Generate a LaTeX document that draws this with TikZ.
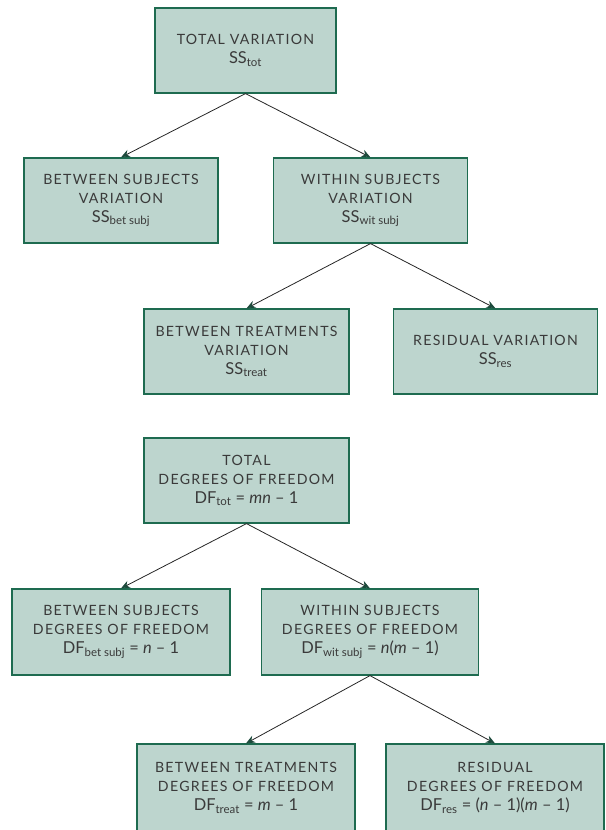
\documentclass[tikz,border=0pt]{standalone}
\usepackage{fontspec}
\setmainfont{Lato}
\newfontfamily\capsfont{Lato}[LetterSpace=9.0]
\usetikzlibrary{arrows.meta}
\definecolor{boxfill}{HTML}{BDD5CE}
\definecolor{boxline}{HTML}{1E6B50}
\definecolor{textgray}{HTML}{3A3A3A}
\definecolor{tipgreen}{HTML}{1D4A3C}
\tikzset{
  box/.style={draw=boxline, fill=boxfill, line width=1.2bp, rectangle, align=center,
    inner sep=0pt, text=textgray, font=\fontsize{14.2}{19}\selectfont},
  arr/.style={draw=black!85, line width=0.8bp, -{Stealth[length=9bp,width=7.5bp,color=tipgreen]}}
}
\newcommand{\cp}[1]{{\capsfont #1}}
\newcommand{\fm}[1]{{\fontsize{16.5}{19}\selectfont #1}}
\newcommand{\sbs}[1]{\textsubscript{\fontsize{11.5}{12}\selectfont #1}}
\begin{document}
\begin{tikzpicture}[x=1bp,y=-1bp]
\useasboundingbox (0,0) rectangle (606,830);
\clip (0,0) rectangle (606,830);
% top tree
\node[box, minimum width=181bp, minimum height=85bp] (t1) at (245.5,50.5)
  {\cp{TOTAL VARIATION}\\\fm{SS\sbs{tot}}};
\node[box, minimum width=194bp, minimum height=85bp] (t2) at (121,200.5)
  {\cp{BETWEEN SUBJECTS}\\\cp{VARIATION}\\\fm{SS\sbs{bet subj}}};
\node[box, minimum width=194bp, minimum height=85bp] (t3) at (370.5,200.5)
  {\cp{WITHIN SUBJECTS}\\\cp{VARIATION}\\\fm{SS\sbs{wit subj}}};
\node[box, minimum width=205bp, minimum height=85bp] (t4) at (246.5,351.5)
  {\cp{BETWEEN TREATMENTS}\\\cp{VARIATION}\\\fm{SS\sbs{treat}}};
\node[box, minimum width=204bp, minimum height=85bp] (t5) at (495.5,351.5)
  {\cp{RESIDUAL VARIATION}\\\fm{SS\sbs{res}}};
\draw[arr] (t1.south) -- (t2.north);
\draw[arr] (t1.south) -- (t3.north);
\draw[arr] (t3.south) -- (t4.north);
\draw[arr] (t3.south) -- (t5.north);
% bottom tree
\node[box, minimum width=205bp, minimum height=85bp] (d1) at (246.5,480.5)
  {\cp{TOTAL}\\\cp{DEGREES OF FREEDOM}\\\fm{DF\sbs{tot} = \textit{mn} – 1}};
\node[box, minimum width=218bp, minimum height=86bp] (d2) at (121,632)
  {\cp{BETWEEN SUBJECTS}\\\cp{DEGREES OF FREEDOM}\\\fm{DF\sbs{bet subj} = \textit{n} – 1}};
\node[box, minimum width=217bp, minimum height=86bp] (d3) at (370,632)
  {\cp{WITHIN SUBJECTS}\\\cp{DEGREES OF FREEDOM}\\\fm{DF\sbs{wit subj} = \textit{n}(\textit{m} – 1)}};
\node[box, minimum width=218bp, minimum height=88bp] (d4) at (246,788)
  {\cp{BETWEEN TREATMENTS}\\\cp{DEGREES OF FREEDOM}\\\fm{DF\sbs{treat} = \textit{m} – 1}};
\node[box, minimum width=218bp, minimum height=88bp] (d5) at (495,788)
  {\cp{RESIDUAL}\\\cp{DEGREES OF FREEDOM}\\\fm{DF\sbs{res} = (\textit{n} – 1)(\textit{m} – 1)}};
\draw[arr] (d1.south) -- (d2.north);
\draw[arr] (d1.south) -- (d3.north);
\draw[arr] (d3.south) -- (d4.north);
\draw[arr] (d3.south) -- (d5.north);
\end{tikzpicture}
\end{document}
